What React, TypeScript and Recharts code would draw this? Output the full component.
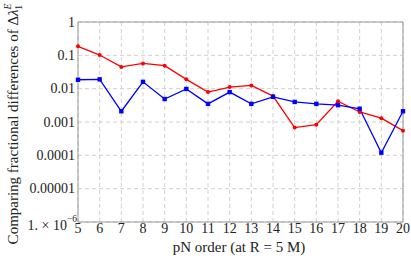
import React from "react";
import {
  LineChart,
  Line,
  XAxis,
  YAxis,
  CartesianGrid,
  ReferenceArea,
} from "recharts";

const orders = [5, 6, 7, 8, 9, 10, 11, 12, 13, 14, 15, 16, 17, 18, 19, 20];
const redValues = [
  0.186, 0.102, 0.045, 0.057, 0.049, 0.019, 0.0079, 0.0112, 0.0125, 0.006,
  0.00068, 0.00083, 0.0042, 0.002, 0.0013, 0.00055,
];
const blueValues = [
  0.0185, 0.019, 0.0021, 0.016, 0.0049, 0.0098, 0.0035, 0.0079, 0.0035,
  0.0057, 0.004, 0.0035, 0.0032, 0.0025, 0.00012, 0.0021,
];
const yTicks = [1e-6, 1e-5, 1e-4, 1e-3, 1e-2, 1e-1, 1];
const yTickLabels = ["1. × 10", "0.00001", "0.0001", "0.001", "0.01", "0.1", "1"];

const data = orders.map((n, i) => ({
  n,
  red: redValues[i],
  blue: blueValues[i],
}));

const txt = {
  fontFamily: "'Liberation Serif', 'Times New Roman', serif",
  fontSize: 14,
  fill: "#222",
};
const big = { ...txt, fontSize: 15 };

const XTick = (props: any) => {
  const { x, y, payload } = props;
  return (
    <text x={x} y={y + 11} textAnchor="middle" style={txt}>
      {payload.value}
    </text>
  );
};

const YTick = (props: any) => {
  const { x, y, payload } = props;
  const idx = yTicks.indexOf(payload.value);
  if (idx === 0) {
    return (
      <text x={x - 1} y={y + 8} textAnchor="end" style={txt}>
        {yTickLabels[0]}
        <tspan style={{ fontSize: 9.5 }} dy={-8}>−6</tspan>
      </text>
    );
  }
  return (
    <text x={x - 3} y={y + 4.5} textAnchor="end" style={txt}>
      {yTickLabels[idx]}
    </text>
  );
};

const YLabel = () => (
  <text transform="translate(18,124) rotate(-90)" textAnchor="middle" style={big}>
    Comparing fractional differences of Δ
    <tspan style={{ fontStyle: "italic" }}>λ</tspan>
    <tspan style={{ fontSize: 9.5, fontStyle: "italic" }} dy={-7}>E</tspan>
    <tspan style={{ fontSize: 9.5 }} dx={-6} dy={11}>1</tspan>
  </text>
);

const XLabel = () => (
  <text x={239} y={252} textAnchor="middle" style={big}>
    pN order (at R = 5 M)
  </text>
);

const BlueDot = (props: any) => {
  const { cx, cy } = props;
  if (cx == null || cy == null) return null;
  return <rect x={cx - 2.2} y={cy - 2.2} width={4.4} height={4.4} fill="#0000ff" />;
};

export default function App() {
  return (
    <div style={{ position: "absolute", left: 0, top: 0, background: "#fff" }}>
      <LineChart
        width={411}
        height={260}
        data={data}
        margin={{ top: 22, right: 8, bottom: 8, left: 0 }}
      >
        <CartesianGrid stroke="#d0d0d0" strokeDasharray="4 3" />
        <XAxis
          dataKey="n"
          type="number"
          domain={[5, 20]}
          ticks={orders}
          interval={0}
          height={30}
          tickSize={0}
          tickMargin={0}
          axisLine={false}
          tickLine={false}
          tick={<XTick />}
          label={<XLabel />}
        />
        <YAxis
          scale="log"
          domain={[1e-6, 1]}
          ticks={yTicks}
          interval={0}
          allowDataOverflow
          width={78}
          tickSize={0}
          tickMargin={0}
          axisLine={false}
          tickLine={false}
          tick={<YTick />}
          label={<YLabel />}
        />
        <ReferenceArea
          x1={5}
          x2={20}
          y1={1e-6}
          y2={1}
          fill="none"
          stroke="#9a9a9a"
          strokeWidth={1}
          ifOverflow="extendDomain"
        />
        <Line
          dataKey="red"
          stroke="#ff0000"
          strokeWidth={1.3}
          dot={{ r: 2, fill: "#ff0000", stroke: "none" }}
          isAnimationActive={false}
        />
        <Line
          dataKey="blue"
          stroke="#0000ff"
          strokeWidth={1.3}
          dot={<BlueDot />}
          isAnimationActive={false}
        />
      </LineChart>
    </div>
  );
}
